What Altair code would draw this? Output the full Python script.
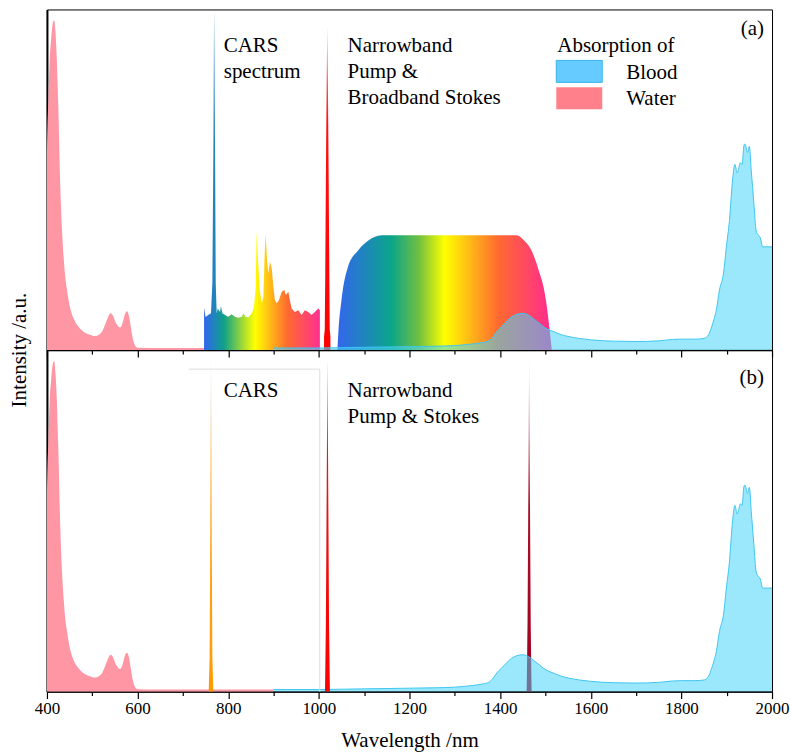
import altair as alt
import pandas as pd

FONT = "Liberation Serif"

# ---------------- data ----------------
water_wl = [400, 400, 403.6, 406, 409.5, 413, 416, 419, 422, 425, 429, 433, 437, 440, 445, 451, 458,
            466, 475, 484, 495, 506, 515, 522, 530, 536, 541, 546, 552, 557, 562, 567, 572, 577, 581,
            586, 590, 595, 600, 650, 700, 800, 900]
water_val = [0, 0.557, 0.75, 0.85, 0.917, 0.96, 0.968, 0.93, 0.85, 0.72, 0.5, 0.36, 0.27, 0.22, 0.17,
             0.125, 0.095, 0.075, 0.06, 0.051, 0.045, 0.041, 0.045, 0.055, 0.08, 0.1, 0.108, 0.1, 0.08,
             0.07, 0.066, 0.08, 0.105, 0.114, 0.1, 0.06, 0.03, 0.012, 0.007, 0.006, 0.006, 0.006, 0.006]

blood_wl = [900, 950, 1000, 1050, 1100, 1150, 1200, 1250, 1300, 1340, 1360, 1375, 1385, 1393, 1402,
            1415, 1425, 1437, 1450, 1462, 1475, 1487, 1497, 1510, 1520, 1535, 1550, 1575, 1600, 1650,
            1700, 1750, 1780, 1800, 1830, 1850, 1860, 1866, 1872, 1877, 1884, 1893, 1899, 1906, 1913,
            1918, 1921, 1923, 1926, 1930, 1934, 1938, 1940, 1943, 1946, 1950, 1954, 1960, 1965, 1970,
            1974, 1976, 1979, 1985, 2000]
blood_val = [0.006, 0.006, 0.006, 0.007, 0.008, 0.009, 0.010, 0.011, 0.013, 0.018, 0.022, 0.027, 0.04,
             0.055, 0.067, 0.085, 0.097, 0.105, 0.108, 0.103, 0.09, 0.078, 0.067, 0.058, 0.053, 0.045,
             0.04, 0.034, 0.03, 0.026, 0.025, 0.027, 0.031, 0.032, 0.032, 0.034, 0.045, 0.065, 0.09,
             0.117, 0.176, 0.226, 0.30, 0.38, 0.50, 0.545, 0.53, 0.52, 0.53, 0.55, 0.545, 0.60, 0.605,
             0.595, 0.58, 0.598, 0.53, 0.43, 0.35, 0.337, 0.33, 0.32, 0.303, 0.303, 0.303]

cars_wl = [746.7, 746.7, 750, 756, 762, 765, 767.3, 768.8, 771, 772.5, 774.6, 776.9, 782, 784, 787,
           793, 800, 807.7, 815, 822.5, 829.8, 833.5, 838.6, 844.5, 851.8, 857, 860.6, 862.8, 865.8,
           868.8, 873.8, 877.6, 880.5, 882.6, 885.6, 888.6, 892, 896, 899.6, 903, 907, 912, 918, 924,
           927, 932.7, 936, 940, 947, 954.7, 962, 969, 976.7, 984, 991, 998.8, 1002.3, 1002.3]
cars_val = [0, 0.125, 0.097, 0.103, 0.108, 0.196, 0.587, 1.0, 0.587, 0.196, 0.108, 0.122, 0.112, 0.129,
            0.108, 0.103, 0.098, 0.105, 0.098, 0.095, 0.098, 0.107, 0.098, 0.096, 0.107, 0.127, 0.186,
            0.347, 0.264, 0.186, 0.137, 0.156, 0.284, 0.342, 0.264, 0.225, 0.259, 0.24, 0.186, 0.147,
            0.137, 0.147, 0.171, 0.176, 0.161, 0.171, 0.147, 0.122, 0.112, 0.117, 0.103, 0.117, 0.112,
            0.103, 0.112, 0.122, 0.117, 0]

stokes_wl = [1041, 1043, 1050, 1064, 1087, 1110, 1138, 1436, 1454, 1469, 1483, 1501, 1510, 1514]
stokes_val = [0, 0.05, 0.147, 0.243, 0.293, 0.322, 0.337, 0.337, 0.32, 0.293, 0.243, 0.147, 0.05, 0]

pump_a_wl = [1011.5, 1011.5, 1013, 1014, 1015.5, 1017.3, 1018.6, 1019.9, 1021.7, 1023.2, 1024, 1025.5, 1025.5]
pump_a_val = [0, 0.04, 0.06, 0.2, 0.5, 0.8, 0.953, 0.8, 0.5, 0.2, 0.06, 0.04, 0]

cars_b_wl = [757, 757.5, 759, 760.5, 762, 763.5, 765, 766.5, 767]
cars_b_val = [0, 0.03, 0.1, 0.5, 0.974, 0.5, 0.1, 0.03, 0]

pump_b_wl = [1013.5, 1014, 1015.5, 1017.3, 1019, 1020.7, 1022.5, 1024, 1024.5]
pump_b_val = [0, 0.04, 0.2, 0.6, 0.974, 0.6, 0.2, 0.04, 0]

stokes_b_wl = [1458.5, 1459, 1460.5, 1462.3, 1464, 1465.7, 1467.5, 1469, 1469.5]
stokes_b_val = [0, 0.04, 0.2, 0.6, 0.98, 0.6, 0.2, 0.04, 0]

box_x1 = [713]
box_x2 = [1002]
box_top = [0.944]

tick_values = list(range(400, 2001, 100))


def df(wl, v):
    return pd.DataFrame({"wl": wl, "v": v})


ONE = pd.DataFrame({"k": [0]})


def hgrad(stops):
    return alt.Gradient(gradient="linear",
                        stops=[alt.GradientStop(offset=o, color=c) for o, c in stops],
                        x1=0, x2=1, y1=0, y2=0)


def vgrad(stops):
    return alt.Gradient(gradient="linear",
                        stops=[alt.GradientStop(offset=o, color=c) for o, c in stops],
                        x1=0, x2=0, y1=0, y2=1)


def xenc(bottom):
    kw = dict(values=tick_values, format="d", labels=bottom, labelFlush=False,
              labelExpr="datum.value % 200 === 0 ? datum.label : ''",
              tickSize={"condition": {"test": "datum.value % 200 === 0", "value": 7}, "value": 4},
              tickColor="black", tickWidth=1.2, domainColor="black", domainWidth=1.5,
              labelFont=FONT, labelFontSize=17, labelColor="black", labelPadding=2,
              grid=False)
    if bottom:
        kw.update(title="Wavelength /nm", titleFont=FONT, titleFontSize=21,
                  titleFontWeight="normal", titleColor="black", titlePadding=13)
    else:
        kw.update(title=None)
    return alt.X("wl:Q", scale=alt.Scale(domain=[400, 2000], nice=False, zero=False),
                 axis=alt.Axis(**kw))


def yenc():
    return alt.Y("v:Q", scale=alt.Scale(domain=[0, 1], nice=False),
                 axis=alt.Axis(labels=False, ticks=False, title=None, domainWidth=2,
                               domainColor="black", grid=False))


def area(data, bottom, **mark):
    return alt.Chart(data).mark_area(**mark).encode(x=xenc(bottom), y=yenc())


def text(lines, x, y, align="left", size=21, angle=None):
    kw = dict(font=FONT, fontSize=size, align=align, baseline="alphabetic",
              color="black", lineHeight=26)
    if angle is not None:
        kw.update(angle=angle, baseline="middle")
    return alt.Chart(ONE).mark_text(**kw).encode(
        x=alt.value(x), y=alt.value(y), text=alt.value(lines))


rainbow_cars = hgrad([(0, "#3366ee"), (0.17, "#0ea08a"), (0.44, "#ffff00"),
                      (0.72, "#ff6a30"), (1, "#ff3090")])
rainbow_stokes = hgrad([(0, "#3366ee"), (0.25, "#0aa58a"), (0.38, "#70c040"), (0.5, "#ffff00"),
                        (0.75, "#ff6a30"), (1, "#ff2a90")])

blood_mark = dict(color="#48d5fa", fillOpacity=0.55, interpolate="monotone",
                  line=alt.OverlayMarkDef(color="#3ec6f0", strokeWidth=1))
water_mark = dict(color="#ff96a3", interpolate="monotone")

# ---------------- panel (a) ----------------
pa = alt.layer(
    area(df(water_wl, water_val), False, **water_mark),
    area(df(cars_wl, cars_val), False, color=rainbow_cars),
    area(df(pump_a_wl, pump_a_val), False,
         color=vgrad([(0, "#d8c0c0"), (0.3, "#ff1010"), (1, "#ff0000")])),
    area(df(stokes_wl, stokes_val), False, color=rainbow_stokes, interpolate="monotone"),
    area(df(blood_wl, blood_val), False, **blood_mark),
    text(["CARS", "spectrum"], 177, 43),
    text(["Narrowband", "Pump &", "Broadband Stokes"], 301, 43),
    text("Absorption of", 511, 43),
    text("Blood", 580, 70),
    text("Water", 580, 96),
    text("(a)", 718, 26, align="right"),
    text("Intensity /a.u.", -27, 341, align="center", angle=270),
    alt.Chart(ONE).mark_rect(color="#66ccff", stroke="#33b3ee", strokeWidth=1).encode(
        x=alt.value(510), x2=alt.value(556), y=alt.value(51), y2=alt.value(73)),
    alt.Chart(ONE).mark_rect(color="#ff7f8a").encode(
        x=alt.value(510), x2=alt.value(556), y=alt.value(78), y2=alt.value(100)),
).properties(width=726, height=341)

# ---------------- panel (b) ----------------
box_df = pd.DataFrame({"x1": box_x1, "x2": box_x2, "top": box_top, "zero": [0]})
sc_x = alt.Scale(domain=[400, 2000], nice=False, zero=False)
sc_y = alt.Scale(domain=[0, 1], nice=False)

pb = alt.layer(
    area(df(water_wl, water_val), True, **water_mark),
    area(df(stokes_b_wl, stokes_b_val), True,
         color=vgrad([(0, "#e4e4e4"), (0.45, "#a8102a"), (1, "#a00020")])),
    area(df(blood_wl, blood_val), True, **blood_mark),
    area(df(cars_b_wl, cars_b_val), True,
         color=vgrad([(0, "#d0c4b8"), (0.3, "#ffaa30"), (1, "#ff9900")])),
    area(df(pump_b_wl, pump_b_val), True,
         color=vgrad([(0, "#b88a8a"), (0.3, "#e01818"), (1, "#ff0000")])),
    alt.Chart(box_df).mark_rule(color="#dddddd", strokeWidth=1).encode(
        x=alt.X("x1:Q", scale=sc_x), x2="x2:Q", y=alt.Y("top:Q", scale=sc_y)),
    alt.Chart(box_df).mark_rule(color="#dddddd", strokeWidth=1).encode(
        x=alt.X("x2:Q", scale=sc_x), y=alt.Y("top:Q", scale=sc_y), y2="zero:Q"),
    text("CARS", 177, 47),
    text(["Narrowband", "Pump & Stokes"], 301, 47),
    text("(b)", 718, 34, align="right"),
).properties(width=726, height=342)

chart = alt.vconcat(pa, pb, spacing=0, bounds="flush").properties(
    padding={"left": 8, "top": 8, "right": 0, "bottom": 0}
).configure_view(stroke="black", strokeWidth=1).configure_axis(grid=False)

chart.save("out.html", embed_options={"renderer": "svg", "actions": False})
